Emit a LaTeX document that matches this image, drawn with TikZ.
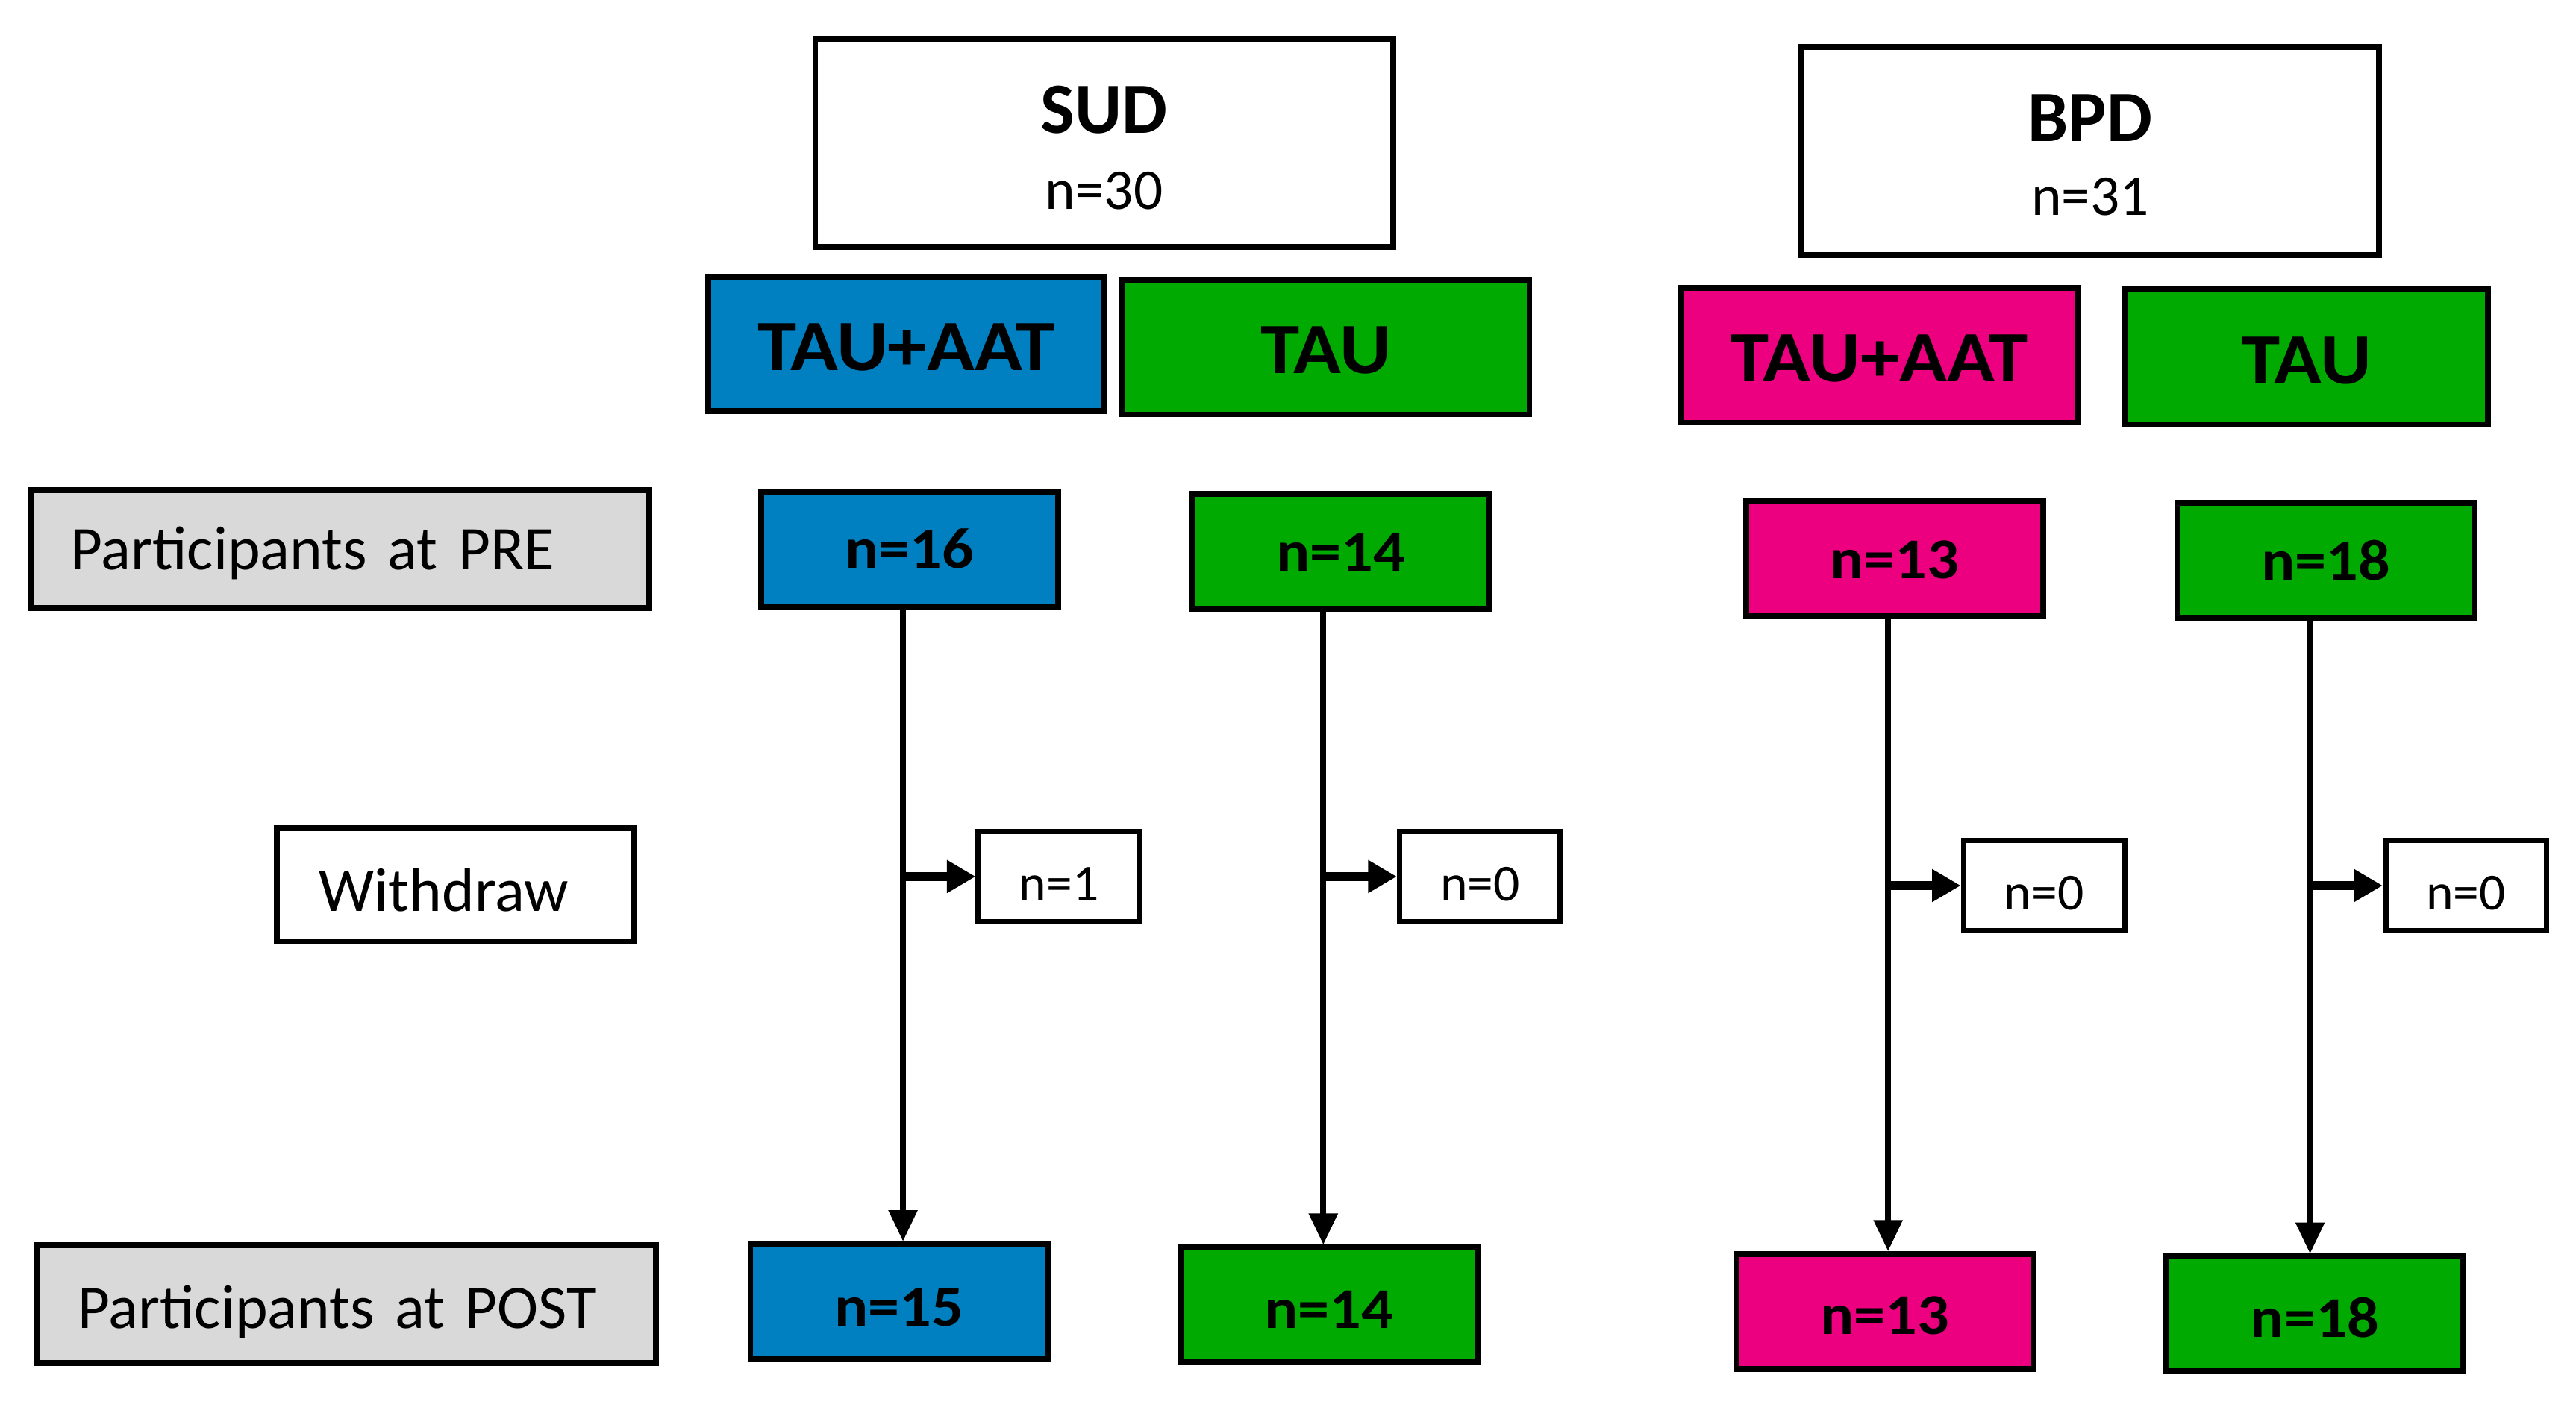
\documentclass[tikz,border=0pt]{standalone}
\usepackage{fontspec}
\setmainfont{Carlito}
\newfontfamily\widefont[FakeStretch=1.09]{Carlito}
\usetikzlibrary{arrows.meta}
\definecolor{aatblue}{RGB}{0,128,192}
\definecolor{taugreen}{RGB}{0,170,0}
\definecolor{aatpink}{RGB}{236,0,128}
\definecolor{labelgray}{RGB}{217,217,217}
\tikzset{
  box/.style={draw, line width=2pt, inner sep=0pt, text depth=0pt},
  boxtext/.style={inner sep=0pt, text depth=0pt},
  groupbox/.style={box, fill=white, minimum width=70.4mm, minimum height=25.4mm},
  armbox/.style={box, minimum height=16.4mm, text height=18.4pt, font=\fontsize{25}{30}\widefont\bfseries},
  countbox/.style={box, minimum width=36.2mm, minimum height=14mm, text height=13.4pt, font=\fontsize{20}{24}\widefont\bfseries},
  dropbox/.style={box, fill=white, minimum width=19.6mm, minimum height=11mm, text height=17pt, font=\fontsize{18}{22}\selectfont},
  rowlabel/.style={box, align=left, minimum height=14.4mm, text height=14.4pt, font=\fontsize{21.5}{26}\selectfont},
  flow/.style={line width=2pt, -{Triangle[length=3.8mm,width=3.4mm]}},
  stub/.style={line width=3pt, -{Triangle[length=3.5mm,width=3.8mm]}},
}
\begin{document}
\begin{tikzpicture}[x=0.2mm, y=-0.2mm]
  \useasboundingbox (0,0) rectangle (1569,862.3);

  % Groups
  \node[groupbox] (sud) at (672.5,87) {};
  \node[boxtext, text height=16.1pt, font=\fontsize{25}{30}\selectfont\bfseries] (sudname) at (672.5,67) {SUD};
  \node[boxtext, text height=12.9pt, font=\fontsize{20}{24}\selectfont] (sudn) at (672.5,116) {n=30};
  \node[groupbox] (bpd) at (1273,92) {};
  \node[boxtext, text height=16.1pt, font=\fontsize{25}{30}\selectfont\bfseries] (bpdname) at (1273,72) {BPD};
  \node[boxtext, text height=12.9pt, font=\fontsize{20}{24}\selectfont] (bpdn) at (1273,120) {n=31};

  % Arms
  \node[armbox, fill=aatblue, minimum width=48.2mm] (sudaat) at (552,209.5) {TAU+AAT};
  \node[armbox, fill=taugreen, minimum width=49.6mm] (sudtau) at (807.5,211.5) {TAU};
  \node[armbox, fill=aatpink, minimum width=48.4mm] (bpdaat) at (1144.5,216.5) {TAU+AAT};
  \node[armbox, fill=taugreen, minimum width=44.2mm] (bpdtau) at (1405,217.5) {TAU};

  % Row labels
  \node[rowlabel, fill=labelgray, inner xsep=4.9mm, text width=65.6mm] (prelabel) at (207,334.5) {Participants at PRE};
  \node[rowlabel, fill=white, inner xsep=5.2mm, text width=33.2mm, minimum height=13.8mm, text height=18.4pt] (wdlabel) at (277.5,539) {Withdraw};
  \node[rowlabel, fill=labelgray, inner xsep=5.0mm, text width=65.4mm, text height=17pt] (postlabel) at (211,794.5) {Participants at POST};

  % Counts at PRE
  \node[countbox, fill=aatblue] (pre1) at (554,334.5) {n=16};
  \node[countbox, fill=taugreen] (pre2) at (816.5,336) {n=14};
  \node[countbox, fill=aatpink] (pre3) at (1154,340.5) {n=13};
  \node[countbox, fill=taugreen] (pre4) at (1416.5,341.5) {n=18};

  % Withdrawals
  \node[dropbox] (wd1) at (645,534) {n=1};
  \node[dropbox] (wd2) at (901.5,534) {n=0};
  \node[dropbox] (wd3) at (1245,539.5) {n=0};
  \node[dropbox] (wd4) at (1502,539.5) {n=0};

  % Counts at POST
  \node[countbox, fill=aatblue, text height=17pt] (post1) at (547.5,793) {n=15};
  \node[countbox, fill=taugreen, text height=16pt] (post2) at (809.5,795) {n=14};
  \node[countbox, fill=aatpink, text height=16pt] (post3) at (1148,799) {n=13};
  \node[countbox, fill=taugreen, text height=16pt] (post4) at (1410,800.5) {n=18};

  % Stems
  \coordinate (stem1) at (550,0);
  \coordinate (stem2) at (806,0);
  \coordinate (stem3) at (1150,0);
  \coordinate (stem4) at (1407,0);

  \draw[flow] (stem1 |- pre1.south) -- (stem1 |- post1.north);
  \draw[flow] (stem2 |- pre2.south) -- (stem2 |- post2.north);
  \draw[flow] (stem3 |- pre3.south) -- (stem3 |- post3.north);
  \draw[flow] (stem4 |- pre4.south) -- (stem4 |- post4.north);

  \draw[stub] (stem1 |- wd1.west) -- (wd1.west);
  \draw[stub] (stem2 |- wd2.west) -- (wd2.west);
  \draw[stub] (stem3 |- wd3.west) -- (wd3.west);
  \draw[stub] (stem4 |- wd4.west) -- (wd4.west);
\end{tikzpicture}
\end{document}
